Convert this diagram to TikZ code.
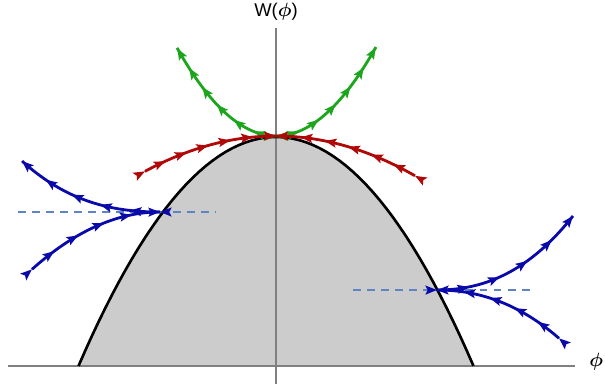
\documentclass[tikz,border=0pt]{standalone}
\usepackage{amsmath}
\usepackage{fontspec}
\setsansfont{Liberation Sans}
\usetikzlibrary{arrows.meta, decorations.markings}
\definecolor{gruen}{HTML}{1DA51D}
\definecolor{rot}{HTML}{B00808}
\definecolor{blau}{HTML}{0A0AAA}
\definecolor{strich}{HTML}{5F84C2}
\definecolor{flaeche}{HTML}{CCCCCC}
\tikzset{
  fluss/.style 2 args={color=#1, line width=1.6pt, postaction={decorate},
    decoration={markings, mark=between positions 0 and 1 step #2
      with {\arrow{Stealth[length=6.5pt,width=5pt,inset=1.2pt]}}}},
  achse/.style={gray, line width=0.6pt},
  niveau/.style={strich, line width=1.5pt, dash pattern=on 4.5pt off 3.5pt}
}

\begin{document}
\begin{tikzpicture}[scale=2, every node/.style={font=\sffamily\fontsize{10.5}{12}\selectfont}]
      \useasboundingbox (-2.76,-0.24) rectangle (3.29,3.66);
      % potential W
      \fill[flaeche] plot[domain=-1.975:1.975, samples=60] (\x, {2.29*(1-\x*\x/3.9006)}) -- cycle;
      \draw[achse] (-2.68,0) -- (2.99,0);
      \draw[achse] (0,-0.18) -- (0,3.38);
      \node (wlabel) at (0,3.54) {W($\boldsymbol{\phi}$)};
      \node[anchor=east, inner sep=0pt] (philabel) at (3.275,0.04) {$\boldsymbol{\phi}$};
      \draw[line width=1.5pt] plot[domain=-1.975:1.975, samples=60] (\x, {2.29*(1-\x*\x/3.9006)});
      % levels
      \draw[niveau] (-2.58,1.54) -- (-0.61,1.54);
      \draw[niveau] (0.77,0.76) -- (2.57,0.76);
      % green
      \draw[fluss={gruen}{0.166}] plot[domain=0:-0.99, samples=40] (\x, {2.30+0.9*\x*\x});
      \draw[fluss={gruen}{0.166}] plot[domain=0:1.0, samples=40] (\x, {2.30+0.89*\x*\x});
      % red
      \draw[fluss={rot}{0.166}] plot[domain=-1.31:0, samples=40] (\x, {2.30-0.206*\x*\x});
      \draw[fluss={rot}{0.166}] plot[domain=1.39:0, samples=40] (\x, {2.30-0.206*\x*\x});
      % blue, left
      \draw[fluss={blau}{0.2}] plot[domain=0:1.38, samples=40]
        ({-1.16-\x}, {1.54+0.146*\x*\x+0.0883*\x*\x*\x});
      \draw[fluss={blau}{0.2}] plot[domain=1.28:0, samples=40]
        ({-1.16-\x}, {1.54-0.35*\x*\x});
      % blue, right
      \draw[fluss={blau}{0.2}] plot[domain=0:1.36, samples=40]
        ({1.61+\x}, {0.76+0.27*\x*\x+0.096*\x*\x*\x});
      \draw[fluss={blau}{0.2}] plot[domain=1.22:0, samples=40]
        ({1.61+\x}, {0.76-0.26*\x*\x-0.053*\x*\x*\x});
    \end{tikzpicture}
\end{document}
